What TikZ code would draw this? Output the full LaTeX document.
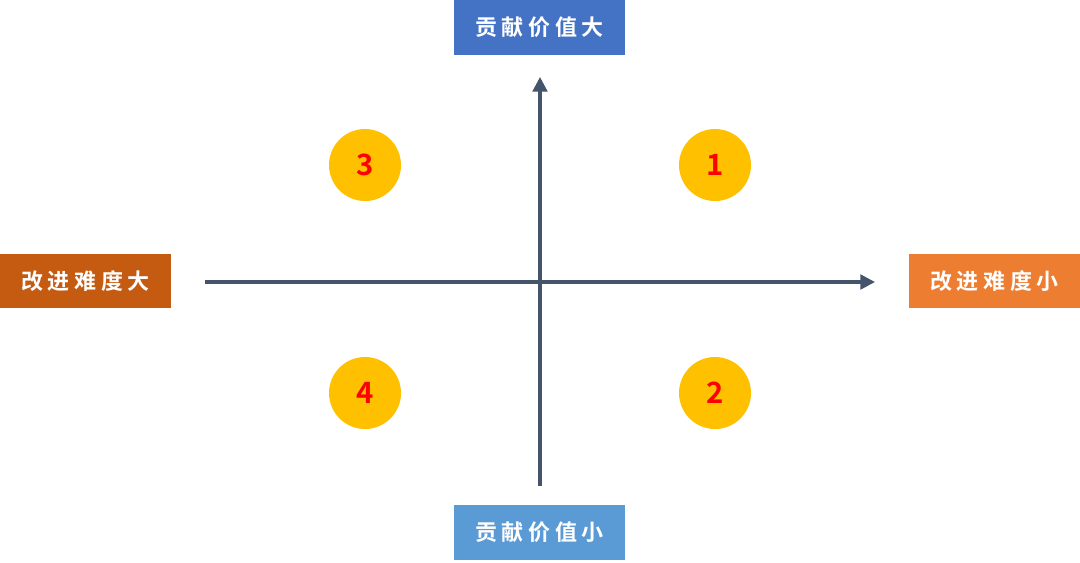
\documentclass[tikz,border=0pt]{standalone}
\usepackage{fontspec}
\newfontfamily\cjk{Noto Sans CJK SC}[BoldFont={Noto Sans CJK SC Bold}]
\usetikzlibrary{arrows.meta}
\definecolor{topblue}{HTML}{4472C4}
\definecolor{lowblue}{HTML}{5B9BD5}
\definecolor{darkorg}{HTML}{C55A11}
\definecolor{lightorg}{HTML}{ED7D31}
\definecolor{gold}{HTML}{FFC000}
\definecolor{axisgray}{HTML}{44546A}

\begin{document}
\begin{tikzpicture}[
  x=0.75pt,y=-0.75pt,
  lbl/.style={rectangle,draw=none,text=white,minimum width=128.5pt,minimum height=41pt,inner sep=0pt,
    font=\cjk\bfseries\fontsize{16.5}{18}\selectfont\addfontfeatures{LetterSpace=21}},
  num/.style={circle,fill=gold,draw=none,minimum size=54pt,inner sep=0pt,text=red,
    font=\cjk\bfseries\fontsize{22}{24}\selectfont},
  axis/.style={line width=2.4pt,draw=axisgray,-{Triangle[length=11pt,width=11pt]}}
]
\useasboundingbox (0,0) rectangle (1080,562);

\node[lbl,fill=topblue] (hi) at (539.5,27.5) {贡献价值大};
\node[lbl,fill=lowblue] (lo) at (539.5,532.5) {贡献价值小};
\node[lbl,fill=darkorg] (hard) at (85.5,281) {改进难度大};
\node[lbl,fill=lightorg] (easy) at (994.5,281) {改进难度小};

\coordinate (xs) at (205,282);
\coordinate (xe) at (875,282);
\coordinate (ys) at (540,486);
\coordinate (ye) at (540,77);

\node[num] (q1) at (715,165) {1};
\node[num] (q2) at (715,393) {2};
\node[num] (q3) at (365,165) {3};
\node[num] (q4) at (365,393) {4};

\draw[axis] (xs)--(xe);
\draw[axis] (ys)--(ye);
\end{tikzpicture}
\end{document}
